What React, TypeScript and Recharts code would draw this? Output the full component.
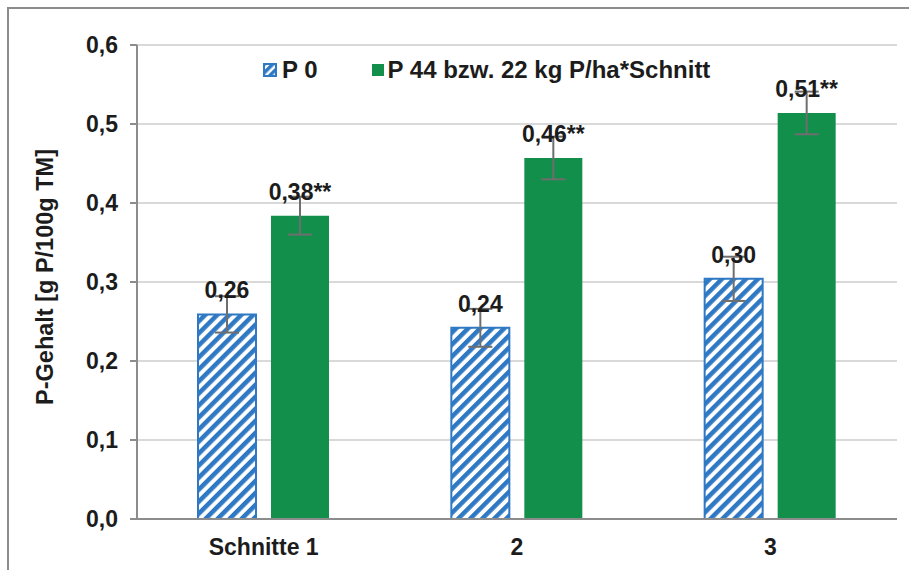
import React from "react";
import {
  BarChart, Bar, XAxis, YAxis, CartesianGrid, ErrorBar, LabelList, Label,
} from "recharts";

const categories = ["Schnitte 1", "2", "3"];
const p0Values = [0.259, 0.242, 0.304];
const p44Values = [0.384, 0.457, 0.514];
const p0Errors = [0.023, 0.024, 0.028];
const p44Errors = [0.024, 0.027, 0.027];
const p0Labels = ["0,26", "0,24", "0,30"];
const p44Labels = ["0,38**", "0,46**", "0,51**"];
const yTicks = [0, 0.1, 0.2, 0.3, 0.4, 0.5, 0.6];

const BLUE = "#2E78C4";
const GREEN = "#128F4B";
const FRAME = "#8C8C8C";
const TEXT = "#1c1c1c";
const FONT = "'Liberation Sans', Arial, sans-serif";

const data = categories.map((name, i) => ({
  name,
  p0: p0Values[i],
  p44: p44Values[i],
  p0Err: p0Errors[i],
  p44Err: p44Errors[i],
  p0Label: p0Labels[i],
  p44Label: p44Labels[i],
}));

const fmtTick = (v: number) => v.toFixed(1).replace(".", ",");

const YTitle = () => (
  <text
    x={45} y={277} transform="rotate(-90, 45, 277)"
    textAnchor="middle" dominantBaseline="central"
    style={{ fontFamily: FONT, fontSize: 23.5, fontWeight: 700, fill: TEXT }}
  >
    P-Gehalt [g P/100g TM]
  </text>
);

const LegendBox: React.FC = () => (
  <div style={{ position: "absolute", left: 263, top: 56, display: "flex", alignItems: "center", fontFamily: FONT, fontSize: 24, fontWeight: 700, color: TEXT, whiteSpace: "nowrap" }}>
    <svg width="14" height="14" style={{ marginRight: 5 }}>
      <defs>
        <pattern id="hatchLegend" width="6" height="6" patternUnits="userSpaceOnUse" patternTransform="rotate(45)">
          <rect width="6" height="6" fill="#fff" />
          <rect width="3.5" height="6" fill={BLUE} />
        </pattern>
      </defs>
      <rect x="1" y="1" width="12" height="12" fill="url(#hatchLegend)" stroke={BLUE} strokeWidth="2" />
    </svg>
    <span style={{ marginRight: 54 }}>P 0</span>
    <svg width="12" height="12" style={{ marginRight: 4 }}>
      <rect width="12" height="12" fill={GREEN} />
    </svg>
    <span>P 44 bzw. 22 kg P/ha*Schnitt</span>
  </div>
);

export default function App() {
  return (
    <div style={{ position: "absolute", left: 0, top: 0, width: 909, height: 570, overflow: "hidden", background: "#fff" }}>
      <div style={{ position: "absolute", left: 7, top: 7, width: 930, height: 600, borderTop: `2px solid ${FRAME}`, borderLeft: `2px solid ${FRAME}` }} />
      <BarChart
        width={909} height={570} data={data}
        margin={{ top: 45, right: 12, left: 0, bottom: 0 }}
        barSize={58} barGap={15}
        style={{ position: "absolute", left: 0, top: 0 }}
      >
        <defs>
          <pattern id="hatchP0" width="8.5" height="8.5" patternUnits="userSpaceOnUse" patternTransform="rotate(45)">
            <rect width="8.5" height="8.5" fill="#fff" />
            <rect width="4.5" height="8.5" fill={BLUE} />
          </pattern>
        </defs>
        <CartesianGrid vertical={false} stroke="#D9D9D9" strokeWidth={2} />
        <XAxis
          dataKey="name" height={51}
          axisLine={{ stroke: FRAME, strokeWidth: 2 }}
          tickLine={false} tickSize={0} tickMargin={20}
          tick={{ fontFamily: FONT, fontSize: 23, fontWeight: 700, fill: TEXT }}
        />
        <XAxis
          xAxisId="top" orientation="top" dataKey="name" height={0}
          axisLine={{ stroke: FRAME, strokeWidth: 2 }} tick={false} tickLine={false}
        />
        <YAxis
          width={137} domain={[0, 0.6]} ticks={yTicks} tickFormatter={fmtTick}
          axisLine={{ stroke: FRAME, strokeWidth: 2 }}
          tickLine={{ stroke: FRAME, strokeWidth: 2 }} tickSize={7} tickMargin={12}
          tick={{ fontFamily: FONT, fontSize: 23, fontWeight: 700, fill: TEXT }}
        >
          <Label content={<YTitle />} />
        </YAxis>
        <YAxis
          yAxisId="right" orientation="right" width={0} domain={[0, 0.6]}
          axisLine={{ stroke: FRAME, strokeWidth: 2 }} tick={false} tickLine={false}
        />
        <Bar dataKey="p0" fill="url(#hatchP0)" stroke={BLUE} strokeWidth={2} isAnimationActive={false}>
          <ErrorBar dataKey="p0Err" width={12} stroke="#6E6E6E" strokeWidth={2} />
          <LabelList dataKey="p0Label" position="top" offset={16}
            style={{ fontFamily: FONT, fontSize: 23, fontWeight: 700, fill: TEXT }} />
        </Bar>
        <Bar dataKey="p44" fill={GREEN} isAnimationActive={false}>
          <ErrorBar dataKey="p44Err" width={12} stroke="#6E6E6E" strokeWidth={2} />
          <LabelList dataKey="p44Label" position="top" offset={16}
            style={{ fontFamily: FONT, fontSize: 23, fontWeight: 700, fill: TEXT }} />
        </Bar>
      </BarChart>
      <LegendBox />
    </div>
  );
}
